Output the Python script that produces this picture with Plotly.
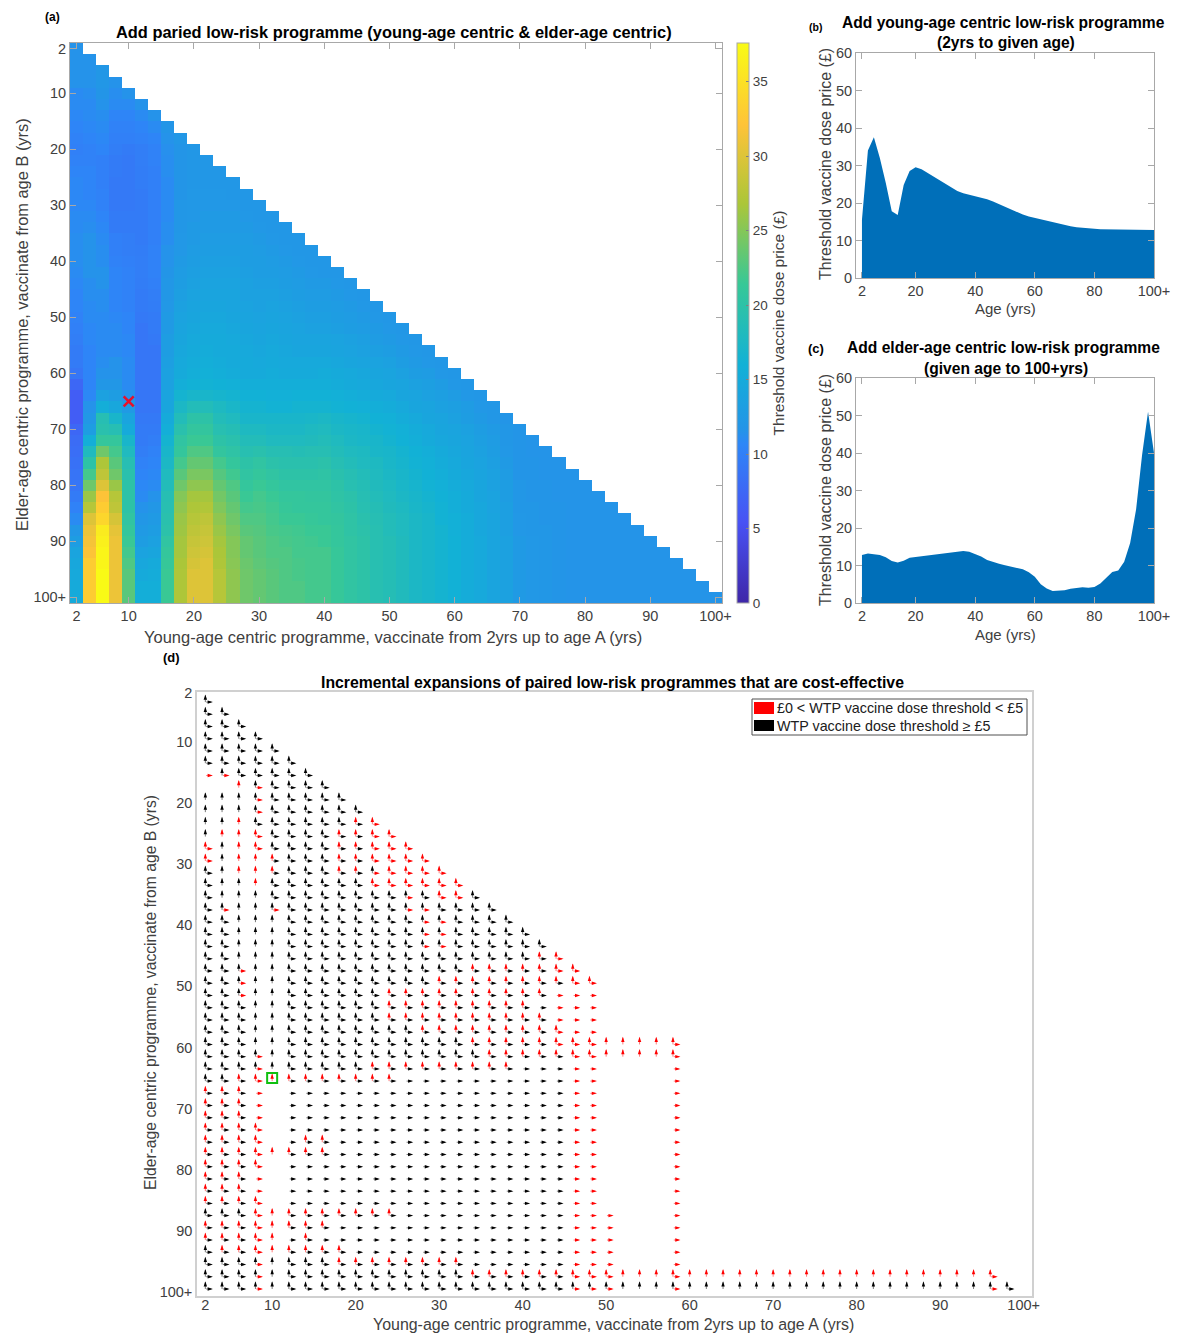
import plotly.graph_objects as go

W, H = 1185, 1333

ages = [2, 4, 6, 8, 10, 12, 14, 16, 18, 20, 22, 24, 26, 28, 30, 32, 34, 36, 38, 40, 42, 44, 46, 48, 50,
        52, 54, 56, 58, 60, 62, 64, 66, 68, 70, 72, 74, 76, 78, 80, 82, 84, 86, 88, 90, 92, 94, 96, 98, 100]

# Panel (a): one list per young-age column A, running from row B = A down to B = 100
col_a02 = [11.5,11.5,11.5,11.5,11,11,10.8,10.5,10.2,10, 10.2,10.5,10.8,10.8,10.8,11,11,11.2,11.2,11.2,
           11,10.8,10.5,10.5,10.2,10,9.8,9.5,9.5,9, 7.5,6.5,6.5,6.5,7.5,8,8.2,8.5,8.8,9, 9.5,10.2,11,12,13,14,14.5,14.8,15,15]
col_a04 = [11.5,11.5,11.5,11.2,11,11,10.8,10.5,10.2, 10.2,10.5,10.5,10.5,10.8,11,11.2,11.5,11.5,11.5,
           11.5,11.2,11.2,11,11,10.8,10.8,10.5,10.5,10.5, 10.5,10.8,11.5,12,13,15.5,18,20,22,24, 26,27.5,30,31,31.5,32,33,33,33,33]
col_a06 = [12,12,11.8,11.5,11.2,11,10.8,10.5, 10,10,10,10.2,10.2,10.5,10.8,11,11.2,11.2,
           11.5,11.5,11.2,11.2,11,11,11,11,11.2,11.5, 12,13.5,15.5,19,19.5,21,24,27,28,30, 32,33,34,36,36.5,37,37,37.5,37.5,37.5]
col_a08 = [11.5,11.2,11,10.5,10.2,10,9.8, 9.5,9.5,9.3,9.3,9.3,9.5,9.5,10,10,10.2,
           10.5,10.5,10.5,10.5,10.8,11,11,11,11.5,11.5, 12,13,14.5,17,19,21,22,23,24,26, 27.5,28,29.5,30.5,31,31,31,31,31,31]
col_a10 = [11.5,11,10.5,10.2,10,9.5, 9.3,9.3,9.3,9.3,9.3,9.5,9.5,9.8,9.8,10,
           10.2,10.2,10.2,10.2,10.5,10.5,10.8,10.8,11,11, 11,11.5,12.5,14,15,17,18,19,19.5,20, 20,20,20.5,21,21.5,22,22.5,23,23,23]
col_a12 = [11.5,11,10.5,10.2,9.8, 9.8,9.7,9.7,9.5,9.5,9.5,9.5,9.5,9.7,9.8,
           9.8,9.7,9.5,9.5,9.3,9,9,9,9,9, 9,9,9,9.3,9.5,9.5,9.8,10.2,10.5,10.8, 11,11.5,12,12.5,13,13.8,14.5,15,15.5,15.5]
col_a14 = [11.5,11,10.5,10.2, 10.2,10,10,10,10,10,10,10,10.2,10.2,
           10.2,10,9.8,9.7,9.5,9.5,9.3,9,9,9, 9,9,9,9.3,9.5,9.8,10.2,10.5,10.8,11, 11.5,12,12.5,13,13.5,14.2,15,15.2,15.5,15.5]
col_a16 = [11.8,11.5,11.3, 11.2,11.2,11,11,11,11,11.2,11.2,11.5,11.5,
           11.8,12,12,12.2,12.5,12.5,13,13,13.2,13.5, 13.5,14,14.2,15,15.5,16.5,17,17.5,18,18.5, 19,19.2,19.5,19.8,20.5,21,21.2,21.5,21.5,21.5]
col_a18 = [12,11.8, 11.8,11.8,11.8,11.8,12,12,12,12.2,12.2,12.5,
           12.8,13,13.2,13.5,13.8,14,14.2,14.5,14.8,15, 15.5,16.5,17.5,18.5,19.5,20.5,21,22,23,24, 25,25.5,26,26.2,26.5,26.5,26.8,27,27,27]
col_a20 = [12, 12,12,12,12.2,12.2,12.2,12.5,12.5,12.8,13,
           13.2,13.5,13.8,14,14.2,14.5,14.8,15,15.2,15.5, 16,17,18.5,20,20.8,21.5,22.5,23.5,24.5,25.5, 26.5,27,27.5,28,28.5,29,29.5,30,30,30]
col_a22 = [12,12,12,12.2,12.2,12.5,12.5,12.8,13,13.2,
           13.5,13.8,14,14.2,14.5,14.8,15,15.2,15.5,15.8, 16.2,17,18.5,20,20.8,21.5,22.5,23.5,24.5,25.5, 26.5,27.2,28,28.5,29,29.5,30,30,30,30]
col_a24 = [12,12,12.2,12.2,12.5,12.5,12.8,13,13.2,
           13.5,13.8,14,14.2,14.5,14.8,15,15,15.2,15.5, 16,16.8,17.8,18.5,19.2,20,20.8,22,22.8,23.5, 24.2,24.8,25.5,26,26.5,26.8,27,27.5,27.5,27.5]
col_a26 = [12,12,12.2,12.5,12.5,12.8,13,13.2,
           13.5,13.8,14,14,14.2,14.5,14.8,15,15,15.2, 15.8,16.5,17.2,18,18.8,19.5,20.2,21,21.8,22.5, 23,23.5,24,24.5,25,25,25.2,25.5,25.5,25.5]
col_a28 = [12,12,12.2,12.5,12.8,13,13,
           13.2,13.5,13.5,13.8,14,14.2,14.5,14.8,15,15, 15.5,16,16.5,17,17.8,18.5,19.2,20,20.5,21, 21.5,22,22.5,23,23.5,23.5,23.8,24,24,24]
col_a30 = [12,12,12.2,12.5,12.8,13,
           13,13.2,13.5,13.5,13.8,14,14.2,14.5,14.8,15, 15.5,16,16.5,17,17.8,18.5,19.5,20.5,21,21.5, 22,22.2,22.5,22.8,23,23,23.2,23.5,23.5,23.5]
col_a32 = [12,12,12.2,12.5,12.8,
           13,13.2,13.5,13.8,14,14.2,14.5,14.8,15,15.2, 15.5,15.8,16.2,17,17.5,18,19,19.8,20.5,21, 21.5,21.8,22,22.2,22.5,22.5,22.8,23,23,23]
col_a34 = [12,12,12.2,12.5,
           12.8,13,13.2,13.5,13.8,14,14.2,14.5,14.8,15, 15.5,15.8,16.2,17,17.5,18,19,19.5,20,20.5, 21,21.2,21.5,22,22.2,22.5,22.5,22.5,22.5,22.5]
col_a36 = [12,12,12.2,
           12.5,12.8,13,13.2,13.5,13.8,14,14.2,14.8,15, 15.5,16,16.5,17,17.5,18,18.8,19.5,20,20.5, 21,21,21.5,21.8,22,22,22.2,22.2,22.5,22.5]
col_a38 = [12,12,
           12.2,12.5,12.8,13,13.2,13.5,14,14.2,14.8,15, 15.5,16,16.5,17.2,17.8,18.2,19,19.5,20,20.5, 20.8,21,21.2,21.5,21.8,22,22,22,22,22]
col_a40 = [12,
           12,12.5,12.8,13,13.2,13.5,14,14.2,14.8,15.2, 15.5,16,16.5,17.5,18,18.5,19,19.8,20.2,20.5, 20.8,21,21,21.5,21.5,22,22,22,22,22]
col_a42 = [12,12.2,12.5,12.8,13,13.2,13.8,14,14.5,15, 15.2,15.8,16.2,17,17.5,18,18.5,19,19.5,20, 20.2,20.5,20.8,21,21,21.2,21.2,21.2,21.2,21.2]
col_a44 = [12,12.2,12.5,12.8,13,13.5,13.8,14.2,14.8, 15,15.5,16,16.8,17.2,17.5,18,18.5,19,19.2, 19.8,20,20.2,20.2,20.5,20.5,20.5,20.5,20.5,20.5]
col_a46 = [12,12.2,12.5,12.8,13.2,13.5,14,14.5, 14.8,15.2,15.8,16.5,17,17.2,17.8,18,18.5,18.8, 19,19.2,19.5,19.8,20,20,20,20,20,20]
col_a48 = [12,12.2,12.5,12.8,13.2,13.8,14.2, 14.5,15,15.5,16,16.5,17,17.2,17.8,18,18.2, 18.5,18.8,19,19.2,19.2,19.2,19.2,19.2,19.2,19.2]
col_a50 = [12,12.2,12.5,13,13.5,14, 14.2,14.8,15.2,15.8,16.2,16.5,17,17.2,17.5,17.8, 18,18.2,18.5,18.5,18.8,18.8,18.8,18.8,18.8,18.8]
col_a52 = [12,12.2,12.5,13,13.5, 14,14.2,14.8,15.2,15.8,16,16.5,16.8,17,17.2, 17.5,17.8,18,18,18.2,18.2,18.2,18.2,18.2,18.2]
col_a54 = [12,12.2,12.5,13, 13.5,14,14.2,14.8,15.2,15.5,16,16.2,16.5,16.8, 17,17.2,17.5,17.5,17.5,17.5,17.5,17.5,17.5,17.5]
col_a56 = [12,12.2,12.8, 13.2,13.5,14,14.2,14.8,15,15.5,15.8,16,16.2, 16.5,16.8,17,17,17,17,17,17,17,17]
col_a58 = [12,12.2, 12.8,13.2,13.5,14,14.2,14.5,15,15.2,15.5,15.8, 16,16.2,16.2,16.5,16.5,16.5,16.5,16.5,16.5,16.5]
col_a60 = [12, 12.2,12.8,13.2,13.5,14,14.2,14.5,14.8,15,15.2, 15.5,15.5,15.8,15.8,16,16,16,16,16,16]
col_a62 = [12,12.2,12.8,13,13.5,13.8,14,14.2,14.5,14.8, 15,15,15.2,15.2,15.2,15.2,15.2,15.2,15.2,15.2]
col_a64 = [12,12.2,12.5,13,13.2,13.5,13.8,14,14.2, 14.2,14.5,14.5,14.5,14.8,14.8,14.8,14.8,14.8,14.8]
col_a66 = [12,12,12.5,12.8,13,13.2,13.5,13.5, 13.8,13.8,14,14,14,14,14,14,14,14]
col_a68 = [11.8,12,12,12.2,12.5,12.8,13, 13,13.2,13.2,13.2,13.5,13.5,13.5,13.5,13.5,13.5]
col_a70 = [11.8,11.8,11.8,11.8,11.8,12, 12,12,12.2,12.2,12.5,12.5,12.5,12.5,12.5,12.5]
col_a72 = [11.6,11.6,11.8,11.8,11.8, 11.8,12,12,12,12.2,12.2,12.2,12.2,12.2,12.2]
col_a74 = [11.6,11.6,11.6,11.8, 11.8,11.8,11.8,12,12,12,12,12,12,12]
col_a76 = [11.6,11.6,11.6, 11.6,11.8,11.8,11.8,11.8,11.8,11.8,11.8,11.8,11.8]
col_a78 = [11.6,11.6, 11.6,11.6,11.6,11.6,11.6,11.6,11.6,11.6,11.6,11.6]
col_a80 = [11.6, 11.6,11.6,11.6,11.6,11.6,11.6,11.6,11.6,11.6,11.6]
col_a82 = [11.6,11.6,11.6,11.6,11.6,11.6,11.6,11.6,11.6,11.6]
col_a84 = [11.6,11.6,11.6,11.6,11.6,11.6,11.6,11.6,11.6]
col_a86 = [11.6,11.6,11.6,11.6,11.6,11.6,11.6,11.6]
col_a88 = [11.6,11.6,11.6,11.6,11.6,11.6,11.6]
col_a90 = [11.6,11.6,11.6,11.6,11.6,11.6]
col_a92 = [11.6,11.6,11.6,11.6,11.6]
col_a94 = [11.6,11.6,11.6,11.6]
col_a96 = [11.6,11.6,11.6]
col_a98 = [11.6,11.6]
col_a100 = [11.6]

heat_columns = [col_a02, col_a04, col_a06, col_a08, col_a10, col_a12, col_a14, col_a16, col_a18, col_a20,
                col_a22, col_a24, col_a26, col_a28, col_a30, col_a32, col_a34, col_a36, col_a38, col_a40,
                col_a42, col_a44, col_a46, col_a48, col_a50, col_a52, col_a54, col_a56, col_a58, col_a60,
                col_a62, col_a64, col_a66, col_a68, col_a70, col_a72, col_a74, col_a76, col_a78, col_a80,
                col_a82, col_a84, col_a86, col_a88, col_a90, col_a92, col_a94, col_a96, col_a98, col_a100]

# Panels (b) and (c)
young_threshold = [15.5,34,37.5,32,25.3,17.8,16.8,24.8,28.5,29.5,29,28,27,26,25,24,23.2,22.6,22.2,21.9,21.5,21,20.4,19.7,18.9,
                   18.2,17.5,16.9,16.4,16,15.6,15.2,14.8,14.4,14,13.8,13.5,13.3,13.2,13.1,13,13,12.9,12.9,12.8,12.8,12.8,12.8,12.8,12.8]
elder_threshold = [12.8,13.2,13,12.8,12.2,11.2,10.8,11.3,12.1,12.3,12.4,12.6,12.8,13,13.2,13.5,13.8,13.9,13.7,13.1,12.4,11.5,10.9,10.5,10.1,
                   9.8,9.5,9,8.2,7,5,3.9,3.2,3.2,3.4,3.8,4,4.2,4.1,4.3,5.2,6.7,8.3,8.7,11,16,25,39.5,51,40]

# Panel (d): one string per elder-age row; position j is young age 2*(j+1); k=black, r=red, .=no arrow
arrow_rows_b = [4, 6, 8, 10, 12, 14, 16, 18, 20, 22, 24, 26, 28, 30, 32, 34, 36, 38, 40, 42, 44, 46, 48, 50, 52,
                54, 56, 58, 60, 62, 64, 66, 68, 70, 72, 74, 76, 78, 80, 82, 84, 86, 88, 90, 92, 94, 96, 98, 100]
up_arrows = [
    "k", "kk", "kkk", "kkkk", "kkkkk", "kkkkkk", ".kkkkkk", "..rkkkkk", "kkkkkkkkk", "kkkkkkkkkk",
    "kkrkkkkkkrr", "krrrkkkkrrrr", "rkrrkkkkrrrrr", "rkrrrkkkrrrrrr", "kkrrrkkkrrkrrrr", "kkkrkkkkkkrrrrrr",
    "kkkkkkkkkkkkkkrrk", "kkkkkkkkkkkkkkkkkk", "kkkkkkkkkkkkkkkkkkk", "kkkkkkkkkkkkkkkkkkkk", "kkkkkkkkkkkkkkkkkkkkk",
    "kkkkkkkkkkkkkkkkkkkkrr", "kkkkkkkkkkkkkkkkrrrrrrr", "kkkkkkkkkkkkkkrrrrrrrrrr", "kkkkkkkkkkkrrrrrrrrrr",
    "kkkkkkkkkkkrrrrrrrrr", "kkkkkkkkkkkrrrrrrrrrr", "kkkkkkkkkkkkkrrrrrrrrr", "kkkkkkkkkkkkkkkkrrrrrrrrrrrrr",
    "kkkkkkkkkkkkkkkkkrrrrrrrrrrrr", "kkkkkkkkkkrrrrrrrrr", "kkrrrrrrrrrr", "rrr", "rrr", "rrr", "rrrr", "rrrr..rr",
    "rrrrrrrr", "rrrr", "rrr", "rrr", "rrrr", "kkkrrrrrrrrr", "rrrrrrrr", "rrrrr.r", "krrrrrrrr", "kkkkkkkkrrrrrrrr",
    "kkkkkkkkkkkkkkkkrrrrrrrrrrrrrrrrrrrrrrrrrrrrrrrr",
    "kkkkkkkkkkkkkkkkkkkkkkkkkkkkkkkkkkkkkkkkkkkkkkkkk",
]
right_arrows = [
    "k", "kk", "kkk", "kkkk", "kkkkk", "kkkkkk", "rrkkkkk", "...rkkkk", "...rkkkkk", "...rkkkkkk",
    "...kkkkkkkr", "...rkkkkkkrr", "r..rkkkkkkrrr", "r...kkkkkkrrrr", "k...kkkkkkrrrrr", "k...kkkkkkrrrrrr",
    "k...kkkkkkkkrkrrk", "kr..rkkkkkkkrrkkkk", "kk...kkkkkkkkrrkkkk", "kk...kkkkkkkkrrkkkkk", "kk...kkkkkkkkrrkkkkkk",
    "kk...kkkkkkkkkkkkkkkkr", "kkr..kkkkkkkkkkkkkkkkrr", "kkr..kkkkkkkkkkkkkkkkkrr", "kkr..kkkkkkkkkkkkkkkkrrr",
    "kkk..kkkkkkkkkkkkkkkkrrr", "kkk..kkkkkkkkkkkkkkkkrrr", "kkk..kkkkkkkkkkkkkkkkrrr",
    "kkk..kkkkkkkkkkkkkkkkrrr....r", "kkkr.kkkkkkkkkkkkkkkkkrr....r", "kkkr.kkkkkkkkkkkkkkkkkrr....r",
    "kkkr.kkkkkkkkkkkkkkkkkrr....r", "kkkr.kkkkkkkkkkkkkkkkkrr....r", "kkkr.kkkkkkkkkkkkkkkkkrr....r",
    "kkkr.kkkkkkkkkkkkkkkkkrr....r", "kkkr.kkkkkkkkkkkkkkkkkrr....r", "kkkr.kkkkkkkkkkkkkkkkkrr....r",
    "kkkr.kkkkkkkkkkkkkkkkkrr....r", "kkkr.kkkkkkkkkkkkkkkkkrr....r", "kkkr.kkkkkkkkkkkkkkkkkrr....r",
    "kkkr.kkkkkkkkkkkkkkkkkrr....r", "kkkr.kkkkkkkkkkkkkkkkkrr....r",
    "kkkr.kkkkkkkkkkkkkkkkkrrr...r", "kkkr.kkkkkkkkkkkkkkkkkrrr...r", "kkkr.kkkkkkkkkkkkkkkkkrrr...r",
    "kkkr.kkkkkkkkkkkkkkkkkrrr...r", "kkkr.kkkkkkkkkkkkkkkkkrrr...r",
    "kkkr.kkkkkkkkkkkkkkkkkrrr...r..................r",
    "kkkr.kkkkkkkkkkkkkkkkkrrr...r..................rk",
]
highlight_a, highlight_b = 10, 65
tick_vals = [2, 10, 20, 30, 40, 50, 60, 70, 80, 90, 100]
tick_text = ["2", "10", "20", "30", "40", "50", "60", "70", "80", "90", "100+"]
area_ticks = [2, 20, 40, 60, 80, 100]
area_text = ["2", "20", "40", "60", "80", "100+"]

FONT = "Liberation Sans, Arial, sans-serif"
INK = "#404040"
AXIS = "#a8a8a8"
ZMAX = 37.6
parula = [[0, "#3e26a8"], [5.4 / ZMAX, "#4852f4"], [10.7 / ZMAX, "#2d87f7"], [11.6 / ZMAX, "#2494e8"],
          [16 / ZMAX, "#12b1d6"], [21.4 / ZMAX, "#37c897"], [26.8 / ZMAX, "#abc639"],
          [32.1 / ZMAX, "#fec338"], [1, "#f9fb15"]]


def dom_x(a, b):
    return [a / W, b / W]


def dom_y(top, bottom):
    return [1 - bottom / H, 1 - top / H]


z = [[None] * len(ages) for _ in ages]
for j, column in enumerate(heat_columns):
    if len(column) != len(ages) - j:
        print("length", ages[j], len(column), len(ages) - j)
    for k, value in enumerate(column):
        if j + k < len(ages):
            z[j + k][j] = value

fig = go.Figure()
fig.add_trace(go.Heatmap(
    x=ages, y=ages, z=z, zmin=0, zmax=ZMAX, colorscale=parula, xaxis="x", yaxis="y", hoverongaps=False,
    colorbar=dict(x=737 / W, xanchor="left", xpad=0, ypad=0, thickness=12, thicknessmode="pixels",
                  len=560 / H, lenmode="fraction", y=1 - 603 / H, yanchor="bottom",
                  tickvals=[0, 5, 10, 15, 20, 25, 30, 35], ticks="inside", ticklen=3, tickcolor="#808080",
                  outlinecolor=AXIS, outlinewidth=1, tickfont=dict(family=FONT, size=13.5, color=INK),
                  title=dict(text="Threshold vaccine dose price (£)", side="right",
                             font=dict(family=FONT, size=15.5, color=INK)))))
fig.add_trace(go.Scatter(x=[highlight_a], y=[highlight_b], mode="markers", xaxis="x", yaxis="y", showlegend=False,
                         marker=dict(symbol="x-thin", size=10, color="#e8102a", line=dict(color="#e8102a", width=2.5))))

for axis_x, axis_y, values in (("x2", "y2", young_threshold), ("x3", "y3", elder_threshold)):
    fig.add_trace(go.Scatter(x=ages, y=values, mode="lines", fill="tozeroy", xaxis=axis_x, yaxis=axis_y,
                             line=dict(width=0, color="#006fb9"), fillcolor="#006fb9", showlegend=False))

for code, colour in (("k", "#000000"), ("r", "#ff0000")):
    up_x, up_y, up_tip_x, up_tip_y = [], [], [], []
    rt_x, rt_y, rt_tip_x, rt_tip_y = [], [], [], []
    for b, ups, rights in zip(arrow_rows_b, up_arrows, right_arrows):
        row_y = b - 0.5
        for j, c in enumerate(ups):
            if c == code:
                a = 2 * (j + 1)
                up_x += [a, a, None]
                up_y += [row_y, row_y - 1.1, None]
                up_tip_x.append(a)
                up_tip_y.append(row_y - 1.25)
        for j, c in enumerate(rights):
            if c == code:
                a = 2 * (j + 1)
                rt_x += [a + 0.1, a + 0.7, None]
                rt_y += [row_y, row_y, None]
                rt_tip_x.append(a + 0.9)
                rt_tip_y.append(row_y)
    fig.add_trace(go.Scatter(x=up_x + rt_x, y=up_y + rt_y, mode="lines", xaxis="x4", yaxis="y4", showlegend=False,
                             line=dict(color=colour, width=0.8), opacity=0.65, hoverinfo="skip"))
    fig.add_trace(go.Scatter(x=up_tip_x, y=up_tip_y, mode="markers", xaxis="x4", yaxis="y4", showlegend=False,
                             marker=dict(symbol="arrow", size=5.5, color=colour, line=dict(width=0))))
    fig.add_trace(go.Scatter(x=rt_tip_x, y=rt_tip_y, mode="markers", xaxis="x4", yaxis="y4", showlegend=False,
                             marker=dict(symbol="arrow", angle=90, size=5.5, color=colour, line=dict(width=0))))

fig.add_trace(go.Scatter(x=[highlight_a], y=[highlight_b], mode="markers", xaxis="x4", yaxis="y4", showlegend=False,
                         marker=dict(symbol="square-open", size=10, color="#10c010", line=dict(color="#10c010", width=2))))

tick_font = dict(family=FONT, size=14.5, color=INK)
common = dict(showgrid=False, zeroline=False, showline=True, linecolor=AXIS, linewidth=1,
              ticks="inside", ticklen=6, tickcolor=AXIS, tickwidth=1, mirror="ticks", tickfont=tick_font)

fig.update_layout(
    width=W, height=H, margin=dict(l=0, r=0, t=0, b=0, autoexpand=False), paper_bgcolor="white", plot_bgcolor="white",
    showlegend=False, font=dict(family=FONT, color=INK),
    xaxis=dict(domain=dom_x(70, 722), range=[1, 101], tickvals=tick_vals, ticktext=tick_text, anchor="y", **common),
    yaxis=dict(domain=dom_y(43, 603), range=[101, 1], tickvals=tick_vals, ticktext=tick_text, anchor="x", **common),
    xaxis2=dict(domain=dom_x(856, 1154), range=[0, 100], tickvals=area_ticks, ticktext=area_text, anchor="y2", **common),
    yaxis2=dict(domain=dom_y(53, 278), range=[0, 60], tickvals=[0, 10, 20, 30, 40, 50, 60], anchor="x2", **common),
    xaxis3=dict(domain=dom_x(856, 1154), range=[0, 100], tickvals=area_ticks, ticktext=area_text, anchor="y3", **common),
    yaxis3=dict(domain=dom_y(378, 603), range=[0, 60], tickvals=[0, 10, 20, 30, 40, 50, 60], anchor="x3", **common),
    xaxis4=dict(domain=dom_x(197, 1032), range=[1, 101], tickvals=tick_vals, ticktext=tick_text, anchor="y4",
                showgrid=False, zeroline=False, showline=True, linecolor="#d0d0d0", linewidth=1.5, mirror=True,
                ticks="", tickfont=tick_font, ticklabelstandoff=-5),
    yaxis4=dict(domain=dom_y(692, 1296), range=[100.65, 1.85], tickvals=tick_vals, ticktext=tick_text, anchor="x4",
                showgrid=False, zeroline=False, showline=True, linecolor="#d0d0d0", linewidth=1.5, mirror=True,
                ticks="", tickfont=tick_font),
)


def label(text, x, y, size, bold=False, colour=INK, angle=0, anchor="center"):
    fig.add_annotation(xref="paper", yref="paper", x=x / W, y=1 - y / H, text=f"<b>{text}</b>" if bold else text,
                       showarrow=False, xanchor=anchor, yanchor="middle", textangle=angle,
                       font=dict(family=FONT, size=size, color=colour))


label("(a)", 52, 17, 12, bold=True, colour="#000000")
label("(b)", 815, 27, 10.5, bold=True, colour="#000000")
label("(c)", 816, 349, 13, bold=True, colour="#000000")
label("(d)", 171, 658, 13, bold=True, colour="#000000")
label("Add paried low-risk programme (young-age centric &amp; elder-age centric)", 394, 32, 16.4, bold=True, colour="#000000")
label("Add young-age centric low-risk programme", 1003, 23, 15.6, bold=True, colour="#000000")
label("(2yrs to given age)", 1006, 43, 15.6, bold=True, colour="#000000")
label("Add elder-age centric low-risk programme", 1003, 348, 15.6, bold=True, colour="#000000")
label("(given age to 100+yrs)", 1006, 368, 15.6, bold=True, colour="#000000")
label("Incremental expansions of paired low-risk programmes that are cost-effective", 612, 682, 15.8, bold=True, colour="#000000")

label("Young-age centric programme, vaccinate from 2yrs up to age A (yrs)", 393.5, 637, 16.5)
label("Elder-age centric programme, vaccinate from age B (yrs)", 22, 325, 16.4, angle=-90)
label("Threshold vaccine dose price (£)", 825, 164, 16, angle=-90)
label("Age (yrs)", 1005, 309, 15)
label("Threshold vaccine dose price (£)", 825, 490, 16, angle=-90)
label("Age (yrs)", 1005, 634, 15)
label("Young-age centric programme, vaccinate from 2yrs up to age A (yrs)", 613, 1324, 15.95)
label("Elder-age centric programme, vaccinate from age B (yrs)", 150, 993, 15.7, angle=-90)

# Legend box of panel (d)
fig.add_shape(type="rect", xref="paper", yref="paper", x0=752 / W, x1=1027 / W, y0=1 - 735 / H, y1=1 - 699 / H,
              line=dict(color="#505050", width=1), fillcolor="white", layer="above")
fig.add_shape(type="rect", xref="paper", yref="paper", x0=754 / W, x1=774 / W, y0=1 - 714 / H, y1=1 - 702 / H,
              line=dict(width=0), fillcolor="#ff0000", layer="above")
fig.add_shape(type="rect", xref="paper", yref="paper", x0=754 / W, x1=774 / W, y0=1 - 731 / H, y1=1 - 720 / H,
              line=dict(width=0), fillcolor="#000000", layer="above")
label("£0 &lt; WTP vaccine dose threshold &lt; £5", 774.5, 708, 14.3, colour="#202020", anchor="left")
label("WTP vaccine dose threshold ≥ £5", 774.5, 726, 14.3, colour="#202020", anchor="left")

fig.write_html("out.html", post_script="document.body.style.margin='0';", config={"displayModeBar": False})
